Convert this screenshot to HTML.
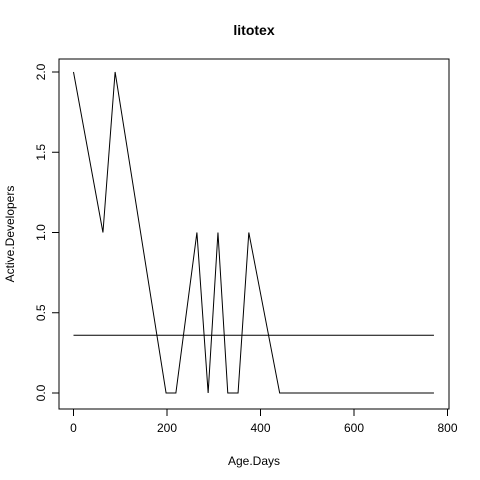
<!DOCTYPE html>
<html><head><meta charset="utf-8"><style>
html,body{margin:0;padding:0;background:#fff;}
svg{display:block;font-family:"Liberation Sans",sans-serif;}
</style></head><body>
<svg id="c" width="480" height="480" viewBox="0 0 480 480">
<rect width="480" height="480" fill="#fff"/>
<text x="254" y="35" text-anchor="middle" font-size="14" font-weight="bold">litotex</text>
<rect x="59" y="59" width="390" height="350" fill="none" stroke="#000"/>
<text x="254" y="465" text-anchor="middle" font-size="12">Age.Days</text>
<text transform="translate(14,234) rotate(-90)" text-anchor="middle" font-size="12">Active.Developers</text>
<g id="ax"></g>
<g id="marks"></g>
</svg>
<script>
const xs = [0,63,89,198,219,264,288,309,330,352,375,441,771];
const ys = [2,1,2,0,0,1,0,1,0,0,1,0,0];
const meanX = [0,771];
const meanY = [0.36,0.36];
const xTicks = [0,200,400,600,800];
const yTicks = [0,0.5,1,1.5,2];
const yTickLabels = ["0.0","0.5","1.0","1.5","2.0"];

function sx(v){return 73.5 + v*0.4675;}
function sy(v){return 393 - v*160.5;}
const NS="http://www.w3.org/2000/svg";
const ax=document.getElementById('ax'), mk=document.getElementById('marks');
function el(t,a,p){const e=document.createElementNS(NS,t);for(const k in a)e.setAttribute(k,a[k]);p.appendChild(e);return e;}

el('line',{x1:sx(xTicks[0]),x2:sx(xTicks[xTicks.length-1]),y1:409,y2:409,stroke:'#000'},ax);
xTicks.forEach(t=>{
  const l=el('line',{x1:sx(t),x2:sx(t),y1:409,y2:416,stroke:'#000'},ax);
  
  
  const tx=el('text',{x:sx(t),y:432,'text-anchor':'middle','font-size':'12'},ax);
  tx.textContent=t;
  
  
});
el('line',{x1:59,x2:59,y1:sy(yTicks[0]),y2:sy(yTicks[yTicks.length-1]),stroke:'#000'},ax);
yTicks.forEach((t,i)=>{
  const l=el('line',{x1:52,x2:59,y1:sy(t),y2:sy(t),stroke:'#000'},ax);
  
  
  const tx=el('text',{transform:`translate(45,${sy(t)}) rotate(-90)`,'text-anchor':'middle','font-size':'12'},ax);
  tx.textContent=yTickLabels[i];
  
  
});
const pl=el('polyline',{points:xs.map((x,i)=>sx(x)+','+sy(ys[i])).join(' '),fill:'none',stroke:'#000','stroke-width':'1'},mk);


const ml=el('line',{x1:sx(meanX[0]),x2:sx(meanX[1]),y1:sy(meanY[0]),y2:sy(meanY[1]),stroke:'#000'},mk);


</script>
</body></html>
